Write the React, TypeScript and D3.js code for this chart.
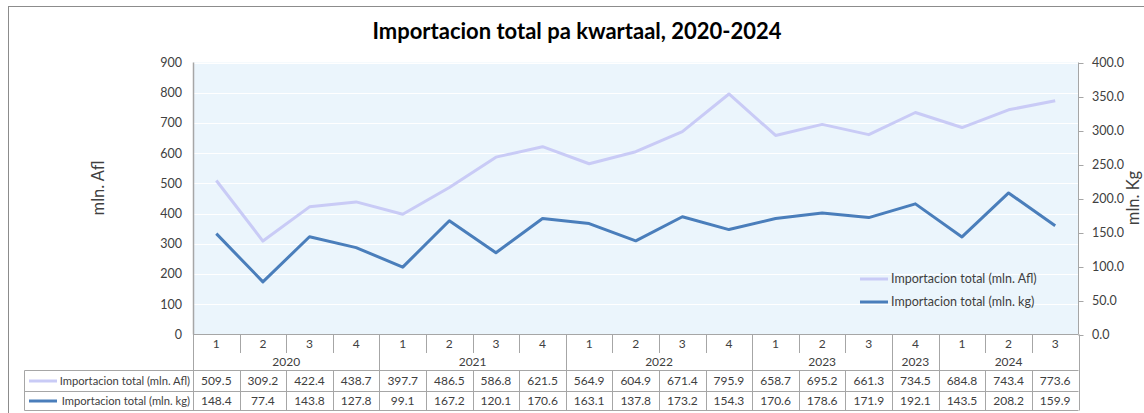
import React from "react";
import * as d3 from "d3";

const quarters = ["1","2","3","4","1","2","3","4","1","2","3","4","1","2","3","4","1","2","3"];
const yearGroups = [
  { label: "2020", count: 4 },
  { label: "2021", count: 4 },
  { label: "2022", count: 4 },
  { label: "2023", count: 3 },
  { label: "2023", count: 1 },
  { label: "2024", count: 3 },
];
const afl = [509.5, 309.2, 422.4, 438.7, 397.7, 486.5, 586.8, 621.5, 564.9, 604.9, 671.4, 795.9, 658.7, 695.2, 661.3, 734.5, 684.8, 743.4, 773.6];
const kg = [148.4, 77.4, 143.8, 127.8, 99.1, 167.2, 120.1, 170.6, 163.1, 137.8, 173.2, 154.3, 170.6, 178.6, 171.9, 192.1, 143.5, 208.2, 159.9];
const leftTicks = [0, 100, 200, 300, 400, 500, 600, 700, 800, 900];
const rightTicks = [0, 50, 100, 150, 200, 250, 300, 350, 400];
const seriesNames = ["Importacion total (mln. Afl)", "Importacion total (mln. kg)"];
const title = "Importacion total pa kwartaal, 2020-2024";

const W = 1144, H = 413;
const L = 193, R = 1078.5, T = 62.5, B = 334.5;
const FONT = "Lato, 'Open Sans', sans-serif";
const AFL_COLOR = "#C9CBF6";
const KG_COLOR = "#4A7EBB";
const GRID = "#A6A6A6";
const TXT = "#404040";

export default function App() {
  const idx = quarters.map((_, i) => i);
  const x = d3.scaleBand<number>().domain(idx).range([L, R]).padding(0);
  const yL = d3.scaleLinear().domain([0, 900]).range([B, T]);
  const yR = d3.scaleLinear().domain([0, 400]).range([B, T]);
  const cx = (i: number) => (x(i) as number) + x.bandwidth() / 2;
  const lineL = d3.line<number>().x((_, i) => cx(i)).y((d) => yL(d));
  const lineR = d3.line<number>().x((_, i) => cx(i)).y((d) => yR(d));

  const rowQ = [B, 353];
  const rowY = [353, 370.5];
  const rowS1 = [370.5, 391.5];
  const rowS2 = [391.5, 410.5];
  const tableLeft = 24.5;

  const bounds: number[] = [0];
  yearGroups.forEach((g) => bounds.push(bounds[bounds.length - 1] + g.count));
  const bx = (k: number) => (k >= quarters.length ? R : (x(k) as number));

  return (
    <svg width={W} height={H} style={{ position: "absolute", left: 0, top: 0, fontFamily: FONT }}>
      <rect x={0} y={0} width={W} height={H} fill="#fff" />
      <rect x={8.5} y={6.5} width={1200} height={500} fill="none" stroke="#8c8c8c" strokeWidth={1} />
      <text x={577} y={39} textAnchor="middle" fontSize={22} fontWeight="bold" fill="#000">{title}</text>

      {/* plot area */}
      <rect x={L} y={T} width={R - L} height={B - T} fill="#EBF5FC" />
      {leftTicks.map((t) => (
        <line key={"g" + t} x1={L} x2={R} y1={Math.round(yL(t)) + 0.5} y2={Math.round(yL(t)) + 0.5} stroke="#fff" strokeWidth={1} />
      ))}
      <line x1={L + 0.5} x2={L + 0.5} y1={T} y2={B} stroke={GRID} strokeWidth={1.5} />
      {leftTicks.map((t) => (
        <text key={"lt" + t} x={182} y={yL(t)} dy="0.35em" textAnchor="end" fontSize={12.5} fill={TXT}>{t}</text>
      ))}
      <line x1={R} x2={R} y1={T} y2={B} stroke={GRID} strokeWidth={1} />
      {rightTicks.map((t) => (
        <g key={"rt" + t}>
          <line x1={R} x2={R + 5} y1={Math.round(yR(t)) + 0.5} y2={Math.round(yR(t)) + 0.5} stroke={GRID} />
          <text x={1092} y={yR(t)} dy="0.35em" textAnchor="start" fontSize={12.5} fill={TXT}>{t.toFixed(1)}</text>
        </g>
      ))}
      <text transform={`translate(104,188) rotate(-90)`} textAnchor="middle" fontSize={16.5} fill={TXT}>mln. Afl</text>
      <text transform={`translate(1139,198) rotate(-90)`} textAnchor="middle" fontSize={16.5} fill={TXT}>mln. Kg</text>

      {/* lines */}
      <path d={lineL(afl) || ""} fill="none" stroke={AFL_COLOR} strokeWidth={3} strokeLinejoin="round" />
      <path d={lineR(kg) || ""} fill="none" stroke={KG_COLOR} strokeWidth={3} strokeLinejoin="round" />

      {/* in-plot legend */}
      {seriesNames.map((n, k) => (
        <g key={"lg" + k} transform={`translate(860,${279 + k * 23})`}>
          <line x1={0} x2={28} y1={0} y2={0} stroke={k === 0 ? AFL_COLOR : KG_COLOR} strokeWidth={3} />
          <text x={31} y={0} dy="0.35em" fontSize={12.5} fill={TXT}>{n}</text>
        </g>
      ))}

      {/* data table */}
      <line x1={L} x2={R} y1={B} y2={B} stroke={GRID} />
      {quarters.map((q, i) => (
        <text key={"q" + i} x={cx(i)} y={(rowQ[0] + rowQ[1]) / 2} dy="0.35em" textAnchor="middle" fontSize={12} fill={TXT}>{q}</text>
      ))}
      {idx.slice(1).filter((i) => !bounds.includes(i)).map((i) => (
        <line key={"qs" + i} x1={Math.round(x(i) as number) + 0.5} x2={Math.round(x(i) as number) + 0.5} y1={rowQ[0]} y2={rowQ[1]} stroke={GRID} />
      ))}
      {bounds.map((k, j) => (
        <line key={"gs" + j} x1={Math.round(bx(k)) + 0.5} x2={Math.round(bx(k)) + 0.5} y1={rowQ[0]} y2={rowS2[1]} stroke={GRID} />
      ))}
      {yearGroups.map((g, j) => (
        <text key={"yg" + j} x={(bx(bounds[j]) + bx(bounds[j + 1])) / 2} y={(rowY[0] + rowY[1]) / 2} dy="0.35em" textAnchor="middle" fontSize={12} fill={TXT}>{g.label}</text>
      ))}
      {[rowS1[0], rowS2[0], rowS2[1]].map((yy, j) => (
        <line key={"hr" + j} x1={tableLeft} x2={R} y1={yy} y2={yy} stroke={GRID} />
      ))}
      <line x1={tableLeft} x2={tableLeft} y1={rowS1[0]} y2={rowS2[1]} stroke={GRID} />
      {idx.slice(1).map((i) => (
        <line key={"vs" + i} x1={Math.round(x(i) as number) + 0.5} x2={Math.round(x(i) as number) + 0.5} y1={rowS1[0]} y2={rowS2[1]} stroke={GRID} />
      ))}
      {[afl, kg].map((arr, k) => {
        const row = k === 0 ? rowS1 : rowS2;
        const ym = (row[0] + row[1]) / 2;
        return (
          <g key={"sr" + k}>
            <line x1={29} x2={57} y1={ym} y2={ym} stroke={k === 0 ? AFL_COLOR : KG_COLOR} strokeWidth={3} />
            <text x={190} y={ym} dy="0.35em" textAnchor="end" fontSize={11.2} fill={TXT}>{seriesNames[k]}</text>
            {arr.map((v, i) => (
              <text key={i} x={cx(i)} y={ym} dy="0.35em" textAnchor="middle" fontSize={12} fill={TXT}>{v.toFixed(1)}</text>
            ))}
          </g>
        );
      })}
    </svg>
  );
}
